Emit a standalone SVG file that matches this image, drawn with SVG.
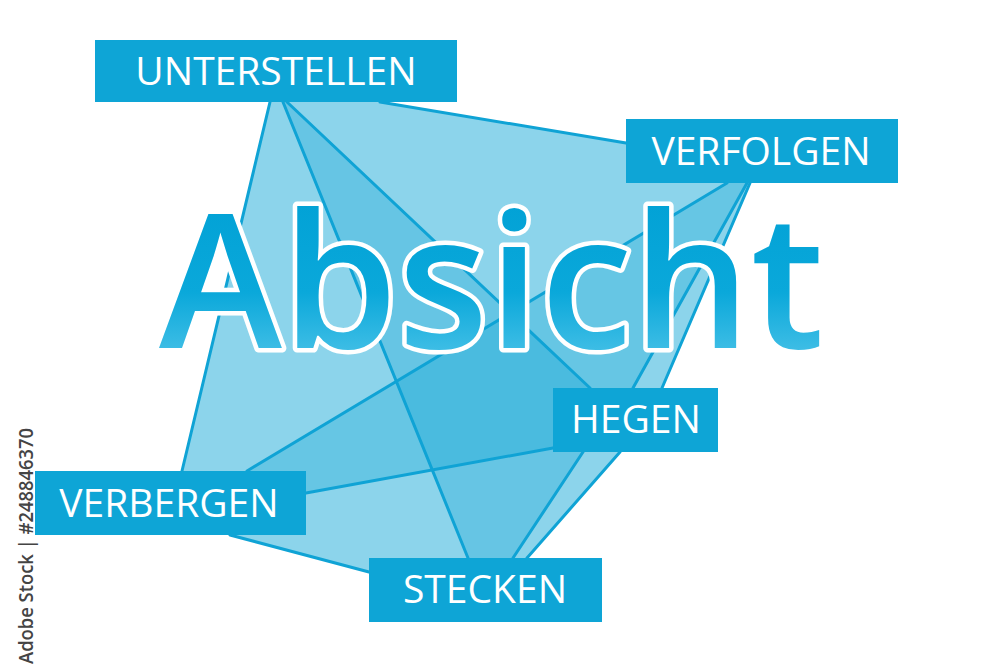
<svg xmlns="http://www.w3.org/2000/svg" width="1000" height="667" viewBox="0 0 1000 667">
  <style>
    .face { fill: #00a0d2; stroke: none; }
    .edge { stroke: #0fa3d5; stroke-width: 3; fill: none; stroke-linecap: round; }
    .box { fill: #0ea5d6; }
    .lbl { font-family: "Open Sans", "Liberation Sans", sans-serif; font-size: 39px; font-weight: 400; fill: #ffffff; text-anchor: middle; }
    .title { font-family: "Open Sans", "Liberation Sans", sans-serif; font-size: 186px; font-weight: 600; fill: url(#tg); stroke: #ffffff; stroke-width: 9; paint-order: stroke fill; stroke-linejoin: round; }
    .wm { font-family: "Open Sans", "Liberation Sans", sans-serif; font-size: 19px; font-weight: 600; fill: #444444; }
  </style>
  <defs>
    <linearGradient id="tg" gradientUnits="userSpaceOnUse" x1="0" y1="205" x2="0" y2="350">
      <stop offset="0" stop-color="#02a2d6"/>
      <stop offset="0.6" stop-color="#0aa8da"/>
      <stop offset="1" stop-color="#3dbde5"/>
    </linearGradient>
  </defs>
  <rect width="1000" height="667" fill="#ffffff"/>

  <g id="faces">
    <polygon class="face" fill-opacity="0.45" points="270,102 380,102 626,143 727,183 247,471 182,471"/>
    <polygon class="face" fill-opacity="0.45" points="306,493 553,448 620,452 527,558 369,572 230,535"/>
    <polygon class="face" fill-opacity="0.6" points="727,183 747,183 633,388 553,448 306,493 247,471"/>
    <polygon class="face" fill-opacity="0.45" points="747,183 750,183 662,388 633,388"/>
    <polygon class="face" fill-opacity="0.27" points="283,102 287,102 590,388 583,452 513,558 468,558"/>
  </g>

  <g id="connectors">
    <line class="edge" x1="270" y1="102" x2="182" y2="471"/>
    <line class="edge" x1="283" y1="102" x2="468" y2="558"/>
    <line class="edge" x1="287" y1="102" x2="590" y2="388"/>
    <line class="edge" x1="380" y1="102" x2="626" y2="143"/>
    <line class="edge" x1="727" y1="183" x2="247" y2="471"/>
    <line class="edge" x1="306" y1="493" x2="553" y2="448"/>
    <line class="edge" x1="230" y1="535" x2="369" y2="572"/>
    <line class="edge" x1="583" y1="452" x2="513" y2="558"/>
    <line class="edge" x1="620" y1="452" x2="527" y2="558"/>
    <line class="edge" x1="747" y1="183" x2="633" y2="388"/>
    <line class="edge" x1="750" y1="183" x2="662" y2="388"/>
  </g>

  <g id="title">
    <text class="title" x="159" y="348">Absicht</text>
  </g>

  <g id="node-unterstellen">
    <rect class="box" x="95" y="40" width="362" height="62"/>
    <text class="lbl" x="276" y="85">UNTERSTELLEN</text>
  </g>
  <g id="node-verfolgen">
    <rect class="box" x="626" y="119" width="272" height="64"/>
    <text class="lbl" x="761" y="165">VERFOLGEN</text>
  </g>
  <g id="node-hegen">
    <rect class="box" x="553" y="388" width="165" height="64"/>
    <text class="lbl" x="636" y="433">HEGEN</text>
  </g>
  <g id="node-verbergen">
    <rect class="box" x="35" y="471" width="271" height="64"/>
    <text class="lbl" x="169" y="517">VERBERGEN</text>
  </g>
  <g id="node-stecken">
    <rect class="box" x="369" y="558" width="233" height="64"/>
    <text class="lbl" x="485" y="603">STECKEN</text>
  </g>

  <text class="wm" transform="translate(33,664) rotate(-90)" textLength="236" lengthAdjust="spacingAndGlyphs">Adobe Stock | #248846370</text>
</svg>
